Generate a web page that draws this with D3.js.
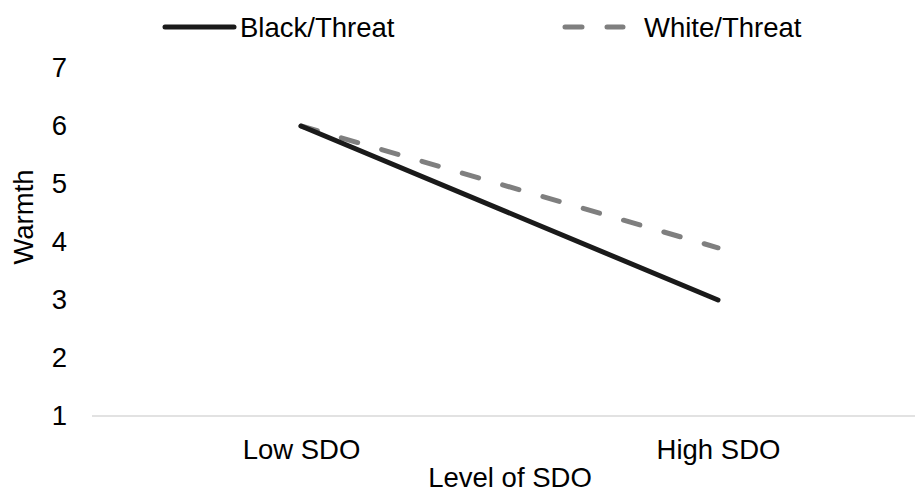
<!DOCTYPE html>
<html><head><meta charset="utf-8">
<script src="https://cdn.jsdelivr.net/npm/d3@7"></script>
<style>body{margin:0;background:#fff}svg{display:block}text{font-family:"Liberation Sans",Arial,sans-serif;fill:#000}</style>
</head><body>
<svg id="c" width="915" height="492"></svg>
<script>
const categories = ["Low SDO", "High SDO"];
const blackThreat = [6.0, 3.0];
const whiteThreat = [6.0, 3.9];
const yTicks = [1, 2, 3, 4, 5, 6, 7];
const seriesNames = ["Black/Threat", "White/Threat"];

const svg = d3.select("#c");
const W = 915, H = 492;
const x = d3.scalePoint().domain(categories).range([301, 718]);
const y = d3.scaleLinear().domain([1, 7]).range([416, 68]);
const fs = 27.5;
const FF = "Liberation Sans, Arial, sans-serif";

// baseline axis
svg.append("line").attr("x1", 92).attr("x2", W).attr("y1", y(1)).attr("y2", y(1))
  .attr("stroke", "#d9d9d9").attr("stroke-width", 1.5);

// y tick labels
const yAxis = d3.axisLeft(y).tickValues(yTicks).tickSize(0).tickPadding(0).tickFormat(d3.format("d"));
const gy = svg.append("g").attr("transform", "translate(67,0)").call(yAxis);
gy.select(".domain").remove();
gy.selectAll("text").attr("font-size", fs).attr("font-family", FF).attr("fill", "#000");

// x tick labels
const xAxis = d3.axisBottom(x).tickSize(0).tickPadding(0);
const gx = svg.append("g").call(xAxis);
gx.select(".domain").remove();
gx.selectAll("text").attr("y", 459).attr("dy", null).attr("font-size", fs).attr("font-family", FF).attr("fill", "#000");

// axis titles
svg.append("text").attr("x", 510).attr("y", 487).attr("text-anchor", "middle").attr("font-size", fs).text("Level of SDO");
svg.append("text").attr("transform", "translate(33,217) rotate(-90)").attr("text-anchor", "middle").attr("font-size", fs).text("Warmth");

const line = d3.line().x((d, i) => x(categories[i])).y(d => y(d));
svg.append("path").datum(whiteThreat).attr("d", line).attr("fill", "none")
  .attr("stroke", "#7f7f7f").attr("stroke-width", 5).attr("stroke-linecap", "round").attr("stroke-dasharray", "17,25");
svg.append("path").datum(blackThreat).attr("d", line).attr("fill", "none")
  .attr("stroke", "#1a1a1a").attr("stroke-width", 5).attr("stroke-linecap", "round");

// legend
const lg = svg.append("g");
lg.append("line").attr("x1", 165).attr("x2", 234).attr("y1", 27).attr("y2", 27)
  .attr("stroke", "#1a1a1a").attr("stroke-width", 5).attr("stroke-linecap", "round");
lg.append("text").attr("x", 240).attr("y", 37).attr("font-size", fs).text(seriesNames[0]);
lg.append("line").attr("x1", 565).attr("x2", 623).attr("y1", 27).attr("y2", 27)
  .attr("stroke", "#7f7f7f").attr("stroke-width", 5).attr("stroke-linecap", "round").attr("stroke-dasharray", "17,25");
lg.append("text").attr("x", 644).attr("y", 37).attr("font-size", fs).text(seriesNames[1]);
</script>
</body></html>
